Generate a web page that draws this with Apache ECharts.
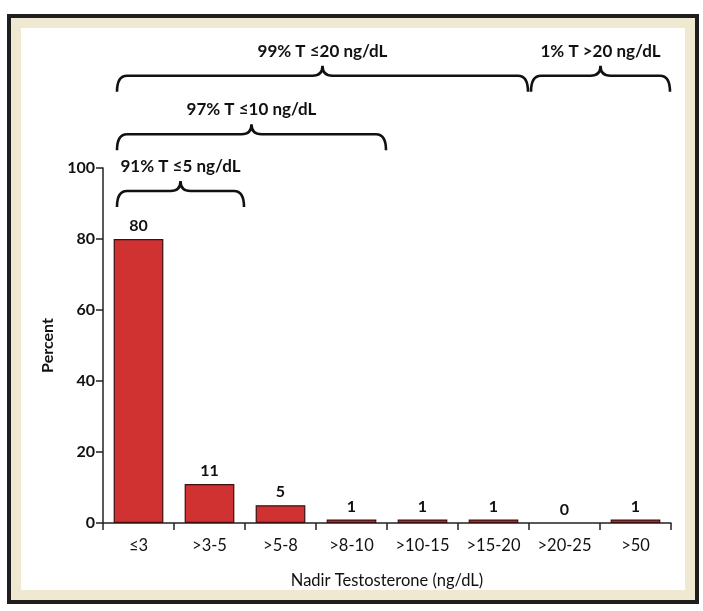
<!DOCTYPE html>
<html>
<head>
<meta charset="utf-8">
<script src="https://cdn.jsdelivr.net/npm/echarts@6/dist/echarts.min.js"></script>
<style>
html,body{margin:0;padding:0;background:#fff;}
#chart{width:703px;height:611px;}
</style>
</head>
<body>
<div id="chart"></div>
<script>
var categories = ['≤3', '>3-5', '>5-8', '>8-10', '>10-15', '>15-20', '>20-25', '>50'];
var percentValues = [80, 11, 5, 1, 1, 1, 0, 1];
var yTicks = [0, 20, 40, 60, 80, 100];
// braces: label, first category index, last category index, value level of the brace ends
var braceLabels = ['91% T ≤5 ng/dL', '97% T ≤10 ng/dL', '99% T ≤20 ng/dL', '1% T >20 ng/dL'];
var braceStart = [0, 0, 0, 6];
var braceEnd = [1, 3, 5, 7];
var braceLevel = [89, 105, 121.5, 121.5];

var FONT = 'Lato, "Open Sans", sans-serif';
var braceData = braceLabels.map(function (l, i) {
  return [braceStart[i], braceEnd[i], braceLevel[i], l];
});
var barData = percentValues.map(function (v) {
  return v === 0 ? {value: v, itemStyle: {borderWidth: 0, opacity: 0}} : v;
});

var chart = echarts.init(document.getElementById('chart'), null, {renderer: 'canvas'});
chart.setOption({
  animation: false,
  backgroundColor: '#ffffff',
  graphic: [
    {type: 'rect', z: -10, silent: true, shape: {x: 9, y: 16, width: 688, height: 586},
     style: {fill: '#efe9d2', stroke: '#1e1e1e', lineWidth: 4}},
    {type: 'rect', z: -9, silent: true, shape: {x: 21, y: 28, width: 664, height: 562},
     style: {fill: '#ffffff'}}
  ],
  grid: {left: 103, right: 32, top: 168, bottom: 88, containLabel: false},
  xAxis: {
    type: 'category',
    data: categories,
    name: 'Nadir Testosterone (ng/dL)',
    nameLocation: 'middle',
    nameGap: 49,
    nameTextStyle: {fontFamily: FONT, fontSize: 16.5, color: '#111'},
    axisLine: {lineStyle: {color: '#222', width: 1.5}},
    axisTick: {show: true, length: 7, alignWithLabel: false, lineStyle: {color: '#222', width: 1.5}},
    axisLabel: {fontFamily: FONT, fontSize: 16.5, color: '#111', margin: 14, interval: 0}
  },
  yAxis: {
    type: 'value',
    min: 0, max: 100, interval: 20,
    name: 'Percent',
    nameLocation: 'middle',
    nameGap: 47,
    nameRotate: 90,
    nameTextStyle: {fontFamily: FONT, fontSize: 16, fontWeight: 'bold', color: '#111'},
    axisLine: {show: true, lineStyle: {color: '#222', width: 1.5}},
    axisTick: {show: true, length: 7, lineStyle: {color: '#222', width: 1.5}},
    axisLabel: {fontFamily: FONT, fontSize: 16, fontWeight: 'bold', color: '#111', margin: 8,
      formatter: function (v) { return yTicks.indexOf(v) >= 0 ? String(v) : ''; }},
    splitLine: {show: false}
  },
  series: [
    {
      type: 'bar',
      data: barData,
      barCategoryGap: '30%',
      itemStyle: {color: '#d03232', borderColor: '#3a1010', borderWidth: 1.2},
      label: {show: true, position: 'top', distance: 5, fontFamily: FONT, fontSize: 16, fontWeight: 'bold', color: '#111', opacity: 1}
    },
    {
      type: 'custom',
      clip: false,
      silent: true,
      data: braceData,
      encode: {x: [0, 1], y: 2},
      renderItem: function (params, api) {
        var band = api.size([1, 0])[0];
        var p0 = api.coord([api.value(0), api.value(2)]);
        var p1 = api.coord([api.value(1), api.value(2)]);
        var x0 = p0[0] - band / 2 + 14;
        var x1 = p1[0] + band / 2 - 1;
        if (api.value(0) > 0) { x0 = p0[0] - band / 2 + 2; }
        var yEnd = p0[1];
        var yLine = yEnd - 16;
        var yTip = yLine - 10;
        var xm = (x0 + x1) / 2;
        var r = 10;
        var path = 'M' + x0 + ' ' + yEnd +
          ' Q' + x0 + ' ' + yLine + ' ' + (x0 + r) + ' ' + yLine +
          ' L' + (xm - r) + ' ' + yLine +
          ' Q' + xm + ' ' + yLine + ' ' + xm + ' ' + yTip +
          ' Q' + xm + ' ' + yLine + ' ' + (xm + r) + ' ' + yLine +
          ' L' + (x1 - r) + ' ' + yLine +
          ' Q' + x1 + ' ' + yLine + ' ' + x1 + ' ' + yEnd;
        return {
          type: 'group',
          children: [
            {type: 'path', shape: {pathData: path},
             style: {fill: null, stroke: '#111', lineWidth: 2.6}},
            {type: 'text', x: xm, y: yTip - 6,
             style: {text: api.value(3), fontFamily: FONT, fontSize: 17, fontWeight: 'bold',
                     fill: '#111', align: 'center', verticalAlign: 'bottom'}}
          ]
        };
      }
    }
  ]
});
</script>
</body>
</html>
